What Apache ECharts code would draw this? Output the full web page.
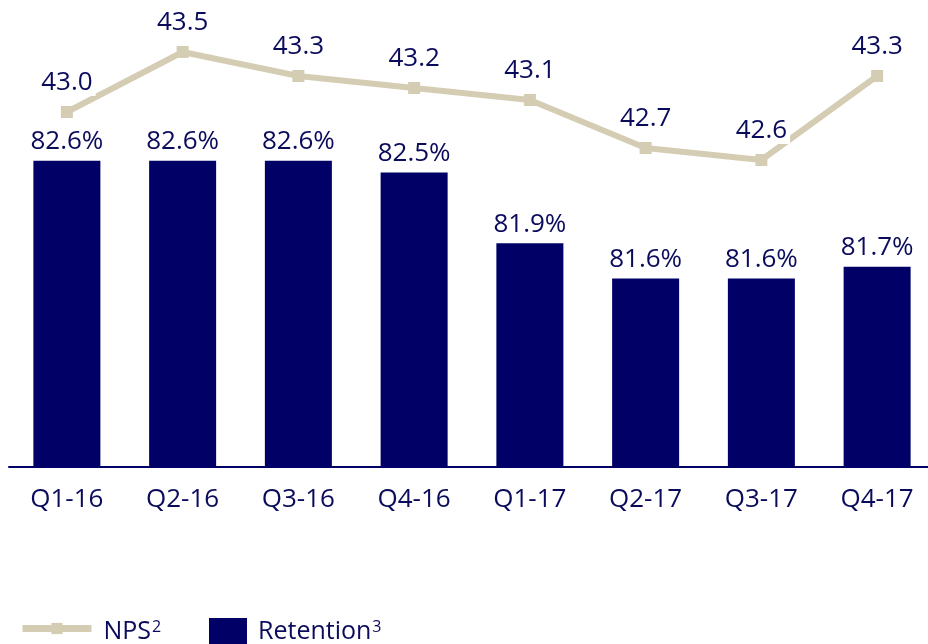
<!DOCTYPE html>
<html>
<head>
<meta charset="utf-8">
<script src="https://cdn.jsdelivr.net/npm/echarts@6/dist/echarts.min.js"></script>
<style>
  html, body { margin: 0; padding: 0; background: #ffffff; }
  #chart { width: 928px; height: 644px; }
</style>
</head>
<body>
<div id="chart"></div>
<script>
// Quarterly customer metrics
const quarters = ['Q1-16', 'Q2-16', 'Q3-16', 'Q4-16', 'Q1-17', 'Q2-17', 'Q3-17', 'Q4-17'];
const retention = [82.6, 82.6, 82.6, 82.5, 81.9, 81.6, 81.6, 81.7];
const nps = [43.0, 43.5, 43.3, 43.2, 43.1, 42.7, 42.6, 43.3];

const NAVY = '#000066';
const TEXT = '#0b0b5c';
const SAND = '#d5cdb3';
const FONT = '"Open Sans", "Noto Sans", sans-serif';

const chart = echarts.init(document.getElementById('chart'), null, { renderer: 'canvas' });

const supStyle = { fontSize: 16, verticalAlign: 'top', color: TEXT, padding: [0, 0, 9, 1] };

chart.setOption({
  animation: false,
  backgroundColor: '#ffffff',
  textStyle: { fontFamily: FONT },
  grid: { left: 9, width: 926, top: 0, bottom: 177, containLabel: false, outerBoundsMode: 'none' },
  legend: [
    {
      data: ['NPS'],
      left: 19, top: 619, padding: 0,
      itemWidth: 69, itemHeight: 14, itemGap: 0,
      lineStyle: { width: 7 },
      textStyle: { color: TEXT, fontSize: 25, fontFamily: FONT, padding: [6, 0, 0, 7], rich: { sup: supStyle } },
      formatter: () => 'NPS{sup|2}'
    },
    {
      data: ['Retention'],
      left: 209, top: 618, padding: 0,
      icon: 'rect',
      itemWidth: 38, itemHeight: 38, itemGap: 0,
      textStyle: { color: TEXT, fontSize: 25, fontFamily: FONT, padding: [0, 0, 10, 6], rich: { sup: supStyle } },
      formatter: () => 'Retention{sup|3}'
    }
  ],
  xAxis: {
    type: 'category',
    data: quarters,
    axisLine: { show: true, lineStyle: { color: NAVY, width: 2 } },
    axisTick: { show: false },
    axisLabel: { color: TEXT, fontSize: 26, fontFamily: FONT, margin: 20 }
  },
  yAxis: [
    { type: 'value', min: 80, max: 83.964, show: false, splitLine: { show: false } },
    { type: 'value', min: 40.042, max: 43.933, show: false, splitLine: { show: false } }
  ],
  series: [
    {
      name: 'Retention',
      type: 'bar',
      yAxisIndex: 0,
      data: retention,
      barWidth: 67,
      itemStyle: { color: NAVY },
      label: {
        show: true, position: 'top', distance: 6,
        color: TEXT, fontSize: 26, fontFamily: FONT,
        formatter: p => p.value.toFixed(1) + '%'
      }
    },
    {
      name: 'NPS',
      type: 'line',
      yAxisIndex: 1,
      data: nps,
      symbol: 'rect',
      symbolSize: 12,
      lineStyle: { color: SAND, width: 6 },
      itemStyle: { color: SAND },
      z: 3,
      label: {
        show: true, position: 'top', distance: 10,
        color: TEXT, fontSize: 26, fontFamily: FONT,
        backgroundColor: '#ffffff', padding: [0, 3, 0, 3],
        formatter: p => p.value.toFixed(1)
      }
    }
  ]
});
</script>
</body>
</html>
